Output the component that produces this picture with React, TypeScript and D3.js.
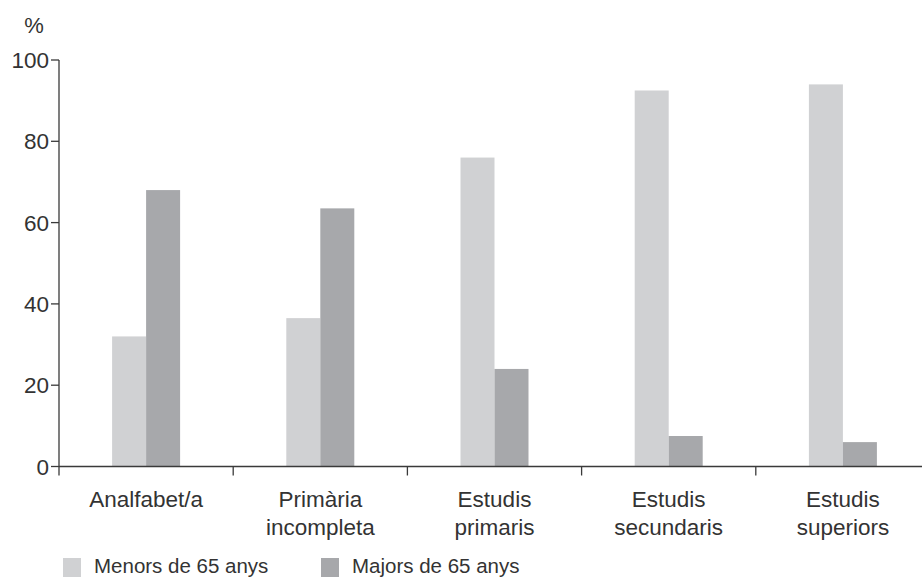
import React from "react";
import * as d3 from "d3";

const categories = [
  ["Analfabet/a"],
  ["Primària", "incompleta"],
  ["Estudis", "primaris"],
  ["Estudis", "secundaris"],
  ["Estudis", "superiors"],
];
const menors = [32, 36.5, 76, 92.5, 94];
const majors = [68, 63.5, 24, 7.5, 6];
const seriesNames = ["Menors de 65 anys", "Majors de 65 anys"];
const seriesColors = ["#d0d1d3", "#a7a8ab"];
const yTicks = [0, 20, 40, 60, 80, 100];

export default function App() {
  const W = 922, H = 577;
  const x0 = 59, y0 = 466.5, yTop = 60;
  const bandW = 174.2;
  const x = d3.scaleBand<number>().domain(d3.range(categories.length)).range([x0, x0 + bandW * 5]).paddingInner(0).paddingOuter(0);
  const y = d3.scaleLinear().domain([0, 100]).range([y0, yTop]);
  const barW = 34;
  const font = "'Liberation Sans', Arial, sans-serif";
  const txt = "#333";
  const axis = "#3a3a3a";
  return (
    <svg width={W} height={H} style={{ position: "absolute", left: 0, top: 0 }}>
      <rect width={W} height={H} fill="#fff" />
      {categories.map((c, i) => {
        const cx = (x(i) as number) + x.bandwidth() / 2;
        return (
          <g key={i}>
            <rect x={cx - barW} y={y(menors[i])} width={barW} height={y0 - y(menors[i])} fill={seriesColors[0]} />
            <rect x={cx} y={y(majors[i])} width={barW} height={y0 - y(majors[i])} fill={seriesColors[1]} />
            <text x={cx} y={507} textAnchor="middle" fontFamily={font} fontSize={22.5} fill={txt}>
              {c.map((l, j) => (
                <tspan key={j} x={cx} dy={j === 0 ? 0 : 27.5}>{l}</tspan>
              ))}
            </text>
          </g>
        );
      })}
      {/* axes */}
      <line x1={x0} x2={x0} y1={yTop} y2={y0 + 9} stroke={axis} strokeWidth={1.3} />
      <line x1={x0} x2={W} y1={y0} y2={y0} stroke={axis} strokeWidth={1.3} />
      {d3.range(1, categories.length).map((i) => (
        <line key={i} x1={x(i) as number} x2={x(i) as number} y1={y0} y2={y0 + 9} stroke={axis} strokeWidth={1.3} />
      ))}
      {yTicks.map((t) => (
        <g key={t}>
          <line x1={x0 - 8} x2={x0} y1={y(t)} y2={y(t)} stroke={axis} strokeWidth={1.3} />
          <text x={x0 - 10} y={y(t) + 8} textAnchor="end" fontFamily={font} fontSize={22.5} fill={txt}>{t}</text>
        </g>
      ))}
      <text x={34} y={33} textAnchor="middle" fontFamily={font} fontSize={22} fill={txt}>%</text>
      {/* legend */}
      {seriesNames.map((s, i) => {
        const lx = i === 0 ? 63 : 321;
        return (
          <g key={s}>
            <rect x={lx} y={558} width={18} height={19} fill={seriesColors[i]} />
            <text x={lx + 31} y={573} fontFamily={font} fontSize={20.5} fill={txt}>{s}</text>
          </g>
        );
      })}
    </svg>
  );
}
